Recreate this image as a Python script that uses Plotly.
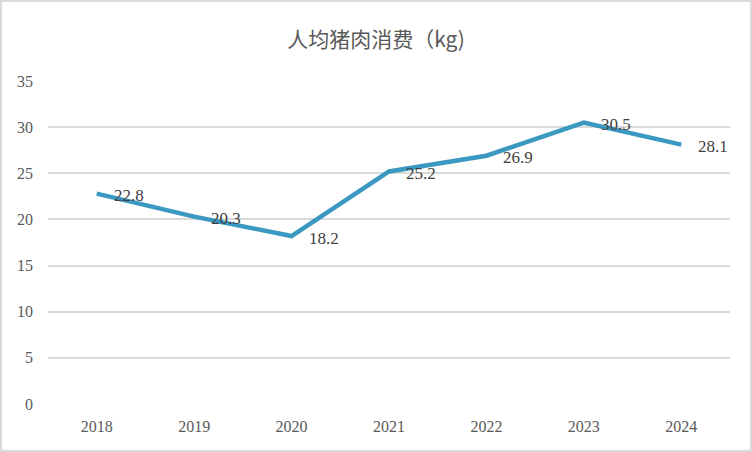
import plotly.graph_objects as go

years = ["2018", "2019", "2020", "2021", "2022", "2023", "2024"]
values = [22.8, 20.3, 18.2, 25.2, 26.9, 30.5, 28.1]
y_ticks = [0, 5, 10, 15, 20, 25, 30, 35]
title_text = "人均猪肉消费（kg)"

W, H = 752, 452
ml, mr, mt, mb = 48, 22, 81, 48
pw, ph = W - ml - mr, H - mt - mb

fig = go.Figure()
fig.add_trace(go.Scatter(
    x=years, y=values, mode="lines",
    line=dict(color="#3a98c1", width=4.5),
    hoverinfo="skip", showlegend=False,
))
for i, yv in enumerate(values):
    fig.add_annotation(
        x=i, y=yv, text=f"{yv}", showarrow=False,
        xanchor="left", yanchor="middle", xshift=15, yshift=-2,
        font=dict(family="Liberation Serif", size=17, color="#404040"),
    )

fig.update_layout(
    width=W, height=H,
    margin=dict(l=ml, r=mr, t=mt, b=mb),
    paper_bgcolor="white", plot_bgcolor="white",
    title=dict(text=title_text, x=0.5, xanchor="center", y=1 - 40 / H, yanchor="middle",
               font=dict(family="Noto Sans CJK SC", size=21, color="#595959")),
    xaxis=dict(type="category", range=[-0.5, 6.5], showgrid=False, zeroline=False,
               showline=False, ticks="", ticklabelstandoff=11,
               tickfont=dict(family="Liberation Serif", size=16, color="#595959")),
    yaxis=dict(range=[0, 35], tickvals=y_ticks, showgrid=True, gridcolor="#d9d9d9",
               gridwidth=1.5, zeroline=False, showline=False, ticks="",
               ticklabelstandoff=14,
               tickfont=dict(family="Liberation Serif", size=16, color="#595959")),
    shapes=[dict(type="rect", xref="paper", yref="paper",
                 x0=-(ml - 1) / pw, x1=1 + (mr - 1) / pw,
                 y0=-(mb - 1) / ph, y1=1 + (mt - 1) / ph,
                 line=dict(color="#d9d9d9", width=2), layer="below")],
)

fig.write_html("out.html", config={"displayModeBar": False},
               post_script="document.body.style.margin='0';")
